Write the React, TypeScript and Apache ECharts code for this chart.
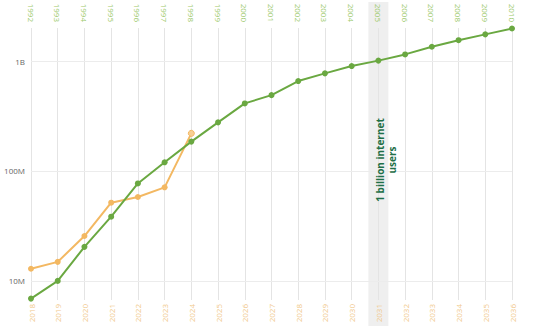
import React, { useEffect, useRef } from "react";
import * as echarts from "echarts";

const topYears = ["1992","1993","1994","1995","1996","1997","1998","1999","2000","2001","2002","2003","2004","2005","2006","2007","2008","2009","2010"];
const bottomYears = ["2018","2019","2020","2021","2022","2023","2024","2025","2026","2027","2028","2029","2030","2031","2032","2033","2034","2035","2036"];
const internetUsers = [6.9e6, 10e6, 20.4e6, 38.4e6, 77e6, 120e6, 185e6, 277e6, 412e6, 490e6, 658e6, 773e6, 901e6, 1.01e9, 1.15e9, 1.35e9, 1.55e9, 1.75e9, 1.98e9];
const otherUsers = [12.9e6, 14.9e6, 25.6e6, 51.5e6, 58e6, 71e6, 220e6];
const yTickLabels: Record<string, string> = { "7": "10M", "8": "100M", "9": "1B" };
const highlightYear = "2005";
const highlightText = "1 billion internet\nusers";

export default function App() {
  const ref = useRef<HTMLDivElement>(null);
  useEffect(() => {
    if (!ref.current) return;
    const chart = echarts.init(ref.current, null, { renderer: "svg" });
    const font = "Open Sans";
    chart.setOption({
      animation: false,
      textStyle: { fontFamily: font },
      grid: { left: 31, right: 28, top: 28, bottom: 36 },
      xAxis: [
        {
          type: "category",
          data: topYears,
          position: "top",
          boundaryGap: false,
          axisLine: { show: false },
          axisTick: { show: false },
          splitLine: { show: true, lineStyle: { color: "#e4e4e4", width: 1 } },
          axisLabel: { rotate: 90, color: "#9cc96b", fontSize: 8, margin: 6, fontFamily: font },
        },
        {
          type: "category",
          data: bottomYears,
          position: "bottom",
          boundaryGap: false,
          axisLine: { show: false },
          axisTick: { show: false },
          splitLine: { show: false },
          axisLabel: { rotate: 90, color: "#f1c98c", fontSize: 8, margin: 4, fontFamily: font },
        },
      ],
      yAxis: {
        type: "log",
        min: 6.7e6,
        max: 2.0e9,
        axisLine: { show: false },
        axisTick: { show: false },
        splitLine: { show: false },
        axisLabel: {
          color: "#666",
          fontSize: 8,
          margin: 6,
          fontFamily: font,
          formatter: (v: number) => {
            const l = Math.log10(v);
            const r = Math.round(l);
            if (Math.abs(l - r) < 1e-6) return yTickLabels[String(r)] || "";
            return "";
          },
        },
      },
      series: [
        {
          type: "line",
          xAxisIndex: 0,
          data: internetUsers,
          symbol: "circle",
          symbolSize: 6,
          z: 4,
          itemStyle: { color: "#6aa841" },
          lineStyle: { color: "#6aa841", width: 2 },
          markLine: {
            silent: true,
            symbol: "none",
            label: { show: false },
            lineStyle: { color: "#ececec", type: "solid", width: 1 },
            data: [{ yAxis: 1e7 }, { yAxis: 1e8 }, { yAxis: 1e9 }],
            z: 1,
          },
        },
        {
          type: "line",
          xAxisIndex: 1,
          data: otherUsers.map((v, i) =>
            i === otherUsers.length - 1
              ? { value: v, itemStyle: { color: "#f7cf95", borderColor: "#f3b862", borderWidth: 1 } }
              : v
          ),
          symbol: "circle",
          symbolSize: 6,
          z: 3,
          itemStyle: { color: "#f3b862" },
          lineStyle: { color: "#f3b862", width: 2 },
        },
      ],
    });
    const px = chart.convertToPixel({ xAxisIndex: 0 }, highlightYear) as number;
    chart.setOption({
      graphic: [
        {
          type: "rect",
          z: -10,
          silent: true,
          shape: { x: px - 10, y: 2, width: 20, height: 324 },
          style: { fill: "#efefef" },
        },
        {
          type: "text",
          z: 10,
          x: px + 8,
          y: 160,
          rotation: Math.PI / 2,
          style: {
            text: highlightText,
            fill: "#1f7048",
            font: `bold 10px "${font}"`,
            align: "center",
            verticalAlign: "middle",
            lineHeight: 12,
          },
        },
      ],
    });
    return () => chart.dispose();
  }, []);
  return <div ref={ref} style={{ position: "absolute", left: 0, top: 0, width: 540, height: 336 }} />;
}
